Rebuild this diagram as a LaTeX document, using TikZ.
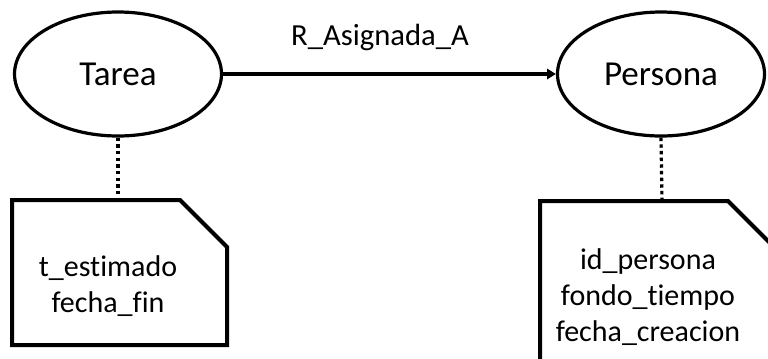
\documentclass[tikz,border=0pt]{standalone}
\usepackage{fontspec}
\setmainfont{Carlito}[Ligatures=NoCommon]
\usetikzlibrary{arrows.meta,shapes.geometric}
\begin{document}
\begin{tikzpicture}[x=0.75pt,y=-0.75pt,
  entity/.style={draw=black,line width=2.4pt,ellipse,minimum width=207*0.75pt,minimum height=124*0.75pt,inner sep=0pt,font=\fontsize{26.3pt}{31pt}\selectfont},
  attrs/.style={align=center,font=\fontsize{22.5pt}{27pt}\selectfont},
  notebox/.style={draw=black,line width=3pt,line join=miter},
  link/.style={line width=2.4pt,dash pattern=on 2.6pt off 2.4pt},
  rel/.style={line width=2.4pt,-{Triangle[length=6.5pt,width=7.5pt]}}]
\useasboundingbox (0,0) rectangle (768,358);
\clip (0,0) rectangle (768,358);

% entities
\node[entity] (tarea) at (118,74) {Tarea};
\node[entity] (persona) at (661,74) {Persona};

% relationship and its name
\draw[rel] (tarea) -- (persona);
\node[font=\fontsize{23pt}{28pt}\selectfont] (rname) at (380,37) {R\_Asignada\_A};

% attribute notes
\draw[notebox] (12,200) -- (180,200) -- (227,247) -- (227,345) -- (12,345) -- cycle;
\coordinate (tnote) at (118,200);
\node[attrs] (tattrs) at (108,286) {t\_estimado\\fecha\_fin};

\draw[notebox] (540,400) -- (540,201) -- (728,201) -- (800,273);
\coordinate (pnote) at (662,201);
\node[attrs] (pattrs) at (648,297) {id\_persona\\fondo\_tiempo\\fecha\_creacion};

% dotted links from entities to their notes
\draw[link] (tarea.south) -- (tnote);
\draw[link] (persona.south) -- (pnote);
\end{tikzpicture}
\end{document}
